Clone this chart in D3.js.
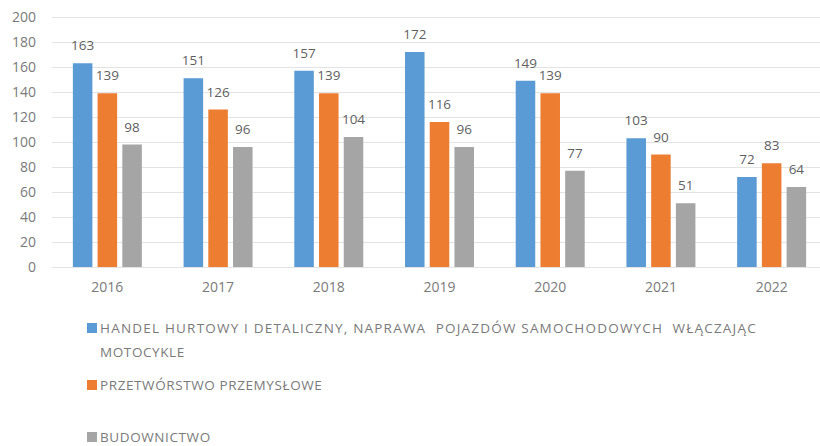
<!DOCTYPE html>
<html>
<head>
<meta charset="utf-8">
<script src="https://cdn.jsdelivr.net/npm/d3@7"></script>
<style>
  body { margin: 0; background: #fff; }
  svg { display: block; font-family: "Open Sans", sans-serif; }
  .legend-text { white-space: pre; }
</style>
</head>
<body>
<div id="chart"></div>
<script>
// Data
const years = ["2016", "2017", "2018", "2019", "2020", "2021", "2022"];
const seriesNames = [
  "HANDEL HURTOWY I DETALICZNY, NAPRAWA  POJAZDÓW SAMOCHODOWYCH  WŁĄCZAJĄC",
  "PRZETWÓRSTWO PRZEMYSŁOWE",
  "BUDOWNICTWO"
];
const handel = [163, 151, 157, 172, 149, 103, 72];
const przetworstwo = [139, 126, 139, 116, 139, 90, 83];
const budownictwo = [98, 96, 104, 96, 77, 51, 64];
const yTicks = [0, 20, 40, 60, 80, 100, 120, 140, 160, 180, 200];

const colors = ["#5b9bd5", "#ed7d31", "#a5a5a5"];
const allSeries = [handel, przetworstwo, budownictwo];

const width = 820, height = 446;
const plotLeft = 52, plotRight = 827, plotTop = 17, plotBottom = 267;

const svg = d3.select("#chart")
  .append("svg")
  .attr("width", width)
  .attr("height", height);

// Scales
const x0 = d3.scaleBand()
  .domain(years)
  .range([plotLeft, plotRight])
  .paddingInner(0.33)
  .paddingOuter(0.165);

const x1 = d3.scaleBand()
  .domain(d3.range(allSeries.length))
  .range([0, x0.bandwidth()])
  .paddingInner(0.21)
  .paddingOuter(0.105);

const y = d3.scaleLinear()
  .domain([0, 200])
  .range([plotBottom, plotTop]);

// Gridlines
svg.append("g")
  .selectAll("line")
  .data(yTicks)
  .enter()
  .append("line")
  .attr("x1", plotLeft)
  .attr("x2", width)
  .attr("y1", d => y(d) + 0.5)
  .attr("y2", d => y(d) + 0.5)
  .attr("stroke", "#e3e3e3")
  .attr("stroke-width", 1.2);

// Y axis labels
const yAxis = svg.append("g")
  .attr("transform", "translate(" + 36 + ",0)")
  .call(d3.axisLeft(y).tickValues(yTicks).tickSize(0).tickPadding(0));
yAxis.select(".domain").remove();
yAxis.selectAll("text")
  .style("font-family", "'Open Sans', sans-serif")
  .style("font-size", "14px")
  .style("fill", "#7a7a7a");

// X axis labels
const xAxis = svg.append("g")
  .attr("transform", "translate(0," + plotBottom + ")")
  .call(d3.axisBottom(x0).tickSize(0).tickPadding(15));
xAxis.select(".domain").remove();
xAxis.selectAll("text")
  .style("font-family", "'Open Sans', sans-serif")
  .style("font-size", "14px")
  .style("fill", "#7a7a7a");

// Bars
allSeries.forEach(function(values, si) {
  const g = svg.append("g");
  g.selectAll("rect")
    .data(values)
    .enter()
    .append("rect")
    .attr("x", (d, i) => x0(years[i]) + x1(si))
    .attr("y", d => y(d))
    .attr("width", x1.bandwidth())
    .attr("height", d => y(0) - y(d))
    .attr("fill", colors[si]);

  g.selectAll("text")
    .data(values)
    .enter()
    .append("text")
    .attr("x", (d, i) => x0(years[i]) + x1(si) + x1.bandwidth() / 2)
    .attr("y", d => y(d) - 13)
    .attr("text-anchor", "middle")
    .style("font-size", "13.5px")
    .style("fill", "#5f5f5f")
    .text(d => d);
});

// Legend
const legendItems = [
  { lines: [seriesNames[0], "MOTOCYKLE"], y: 328 },
  { lines: [seriesNames[1]], y: 385 },
  { lines: [seriesNames[2]], y: 437 }
];
const legend = svg.append("g");
legendItems.forEach(function(item, i) {
  legend.append("rect")
    .attr("x", 87)
    .attr("y", item.y - 5)
    .attr("width", 10)
    .attr("height", 10)
    .attr("fill", colors[i]);
  item.lines.forEach(function(line, li) {
    legend.append("text")
      .attr("class", "legend-text")
      .attr("x", 100)
      .attr("y", item.y + li * 24)
      .attr("dy", "0.35em")
      .style("font-size", "13.5px")
      .style("letter-spacing", i === 0 && li === 0 ? "1.2px" : "0.6px")
      .style("fill", "#7a7a7a")
      .text(line);
  });
});
</script>
</body>
</html>
